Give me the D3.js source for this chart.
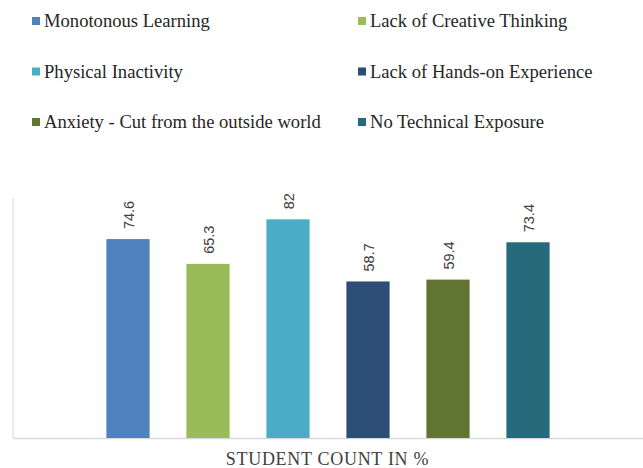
<!DOCTYPE html>
<html><head><meta charset="utf-8">
<script src="https://cdn.jsdelivr.net/npm/d3@7"></script>
</head><body style="margin:0">
<script>
const categories = ["Monotonous Learning","Lack of Creative Thinking","Physical Inactivity","Lack of Hands-on Experience","Anxiety - Cut from the outside world","No Technical Exposure"];
const values = [74.6, 65.3, 82, 58.7, 59.4, 73.4];
const colors = ["#4F81BD","#9BBB59","#4BACC6","#2C4D75","#607531","#276A7C"];
const axisTitle = "STUDENT COUNT IN %";

const W = 643, H = 468;
const svg = d3.select("body").append("svg").attr("width", W).attr("height", H).style("display","block");

const x = d3.scaleBand().domain(categories).range([88, 568]).paddingInner(0.46).paddingOuter(0.23);
const y = d3.scaleLinear().domain([0, 90]).range([438, 198]);

svg.append("line").attr("x1", 13).attr("x2", 13).attr("y1", y(90)).attr("y2", y(0)).attr("stroke", "#d9d9d9").attr("stroke-width", 1);
svg.append("line").attr("x1", 13).attr("x2", W).attr("y1", y(0)+0.5).attr("y2", y(0)+0.5).attr("stroke", "#d9d9d9").attr("stroke-width", 1.5);

svg.selectAll("rect.bar").data(categories).enter().append("rect")
  .attr("class","bar")
  .attr("x", d => x(d)).attr("width", x.bandwidth())
  .attr("y", (d,i) => y(values[i])).attr("height", (d,i) => y(0) - y(values[i]))
  .attr("fill", (d,i) => colors[i]);

svg.selectAll("text.lbl").data(categories).enter().append("text")
  .attr("class","lbl")
  .attr("transform", (d,i) => `translate(${x(d)+x.bandwidth()/2+5.5},${y(values[i])-10}) rotate(-90)`)
  .attr("text-anchor","start")
  .attr("font-family", "Liberation Sans").attr("font-size", 14.5).attr("fill","#404040")
  .text((d,i) => values[i]);

const legend = svg.append("g");
categories.forEach((c,i) => {
  const col = i % 2, row = Math.floor(i/2);
  const lx = col === 0 ? 32 : 358, ly = 21 + row*50.5;
  legend.append("rect").attr("x", lx).attr("y", ly-4).attr("width", 8).attr("height", 8).attr("fill", colors[i]);
  legend.append("text").attr("x", lx+12).attr("y", ly+6)
    .attr("font-family", "Liberation Serif").attr("font-size", 18.6).attr("fill","#262626")
    .text(c);
});

svg.append("text").attr("x", 327.5).attr("y", 464.5).attr("text-anchor","middle")
  .attr("font-family", "Liberation Serif").attr("font-size", 18).attr("letter-spacing", 0.7)
  .attr("fill","#404040").text(axisTitle);
</script>
</body></html>
